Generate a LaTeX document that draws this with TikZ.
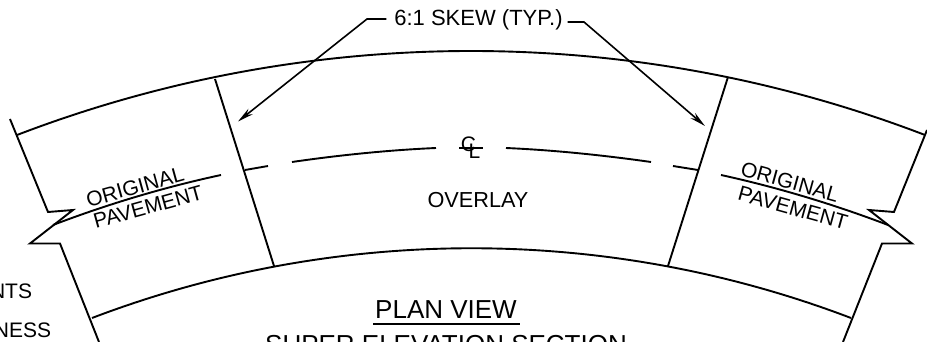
\documentclass[tikz,border=0pt]{standalone}
\usepackage{fontspec}
\setmainfont{Liberation Sans}
\usetikzlibrary{arrows.meta}
\newcommand{\labelsize}{\fontsize{21}{24}\selectfont}
\newcommand{\titlesize}{\fontsize{26}{30}\selectfont}
\begin{document}
\begin{tikzpicture}[x=1pt, y=-1pt, line width=1.9pt, line join=miter,
  main label/.style={font=\labelsize,inner sep=0pt},
  leader/.style={line width=1.6pt,-{Stealth[length=16pt,width=7pt]}}]
\useasboundingbox (0,0) rectangle (927,342);
% edges of the overlay
\coordinate (tl) at (17,135);
\coordinate (tr) at (925,135);
\coordinate (bl) at (92,318);
\coordinate (br) at (851,318);
\coordinate (skewlt) at (215,79);
\coordinate (skewlb) at (274,266);
\coordinate (skewrt) at (728,77);
\coordinate (skewrb) at (668,266);
\draw (tl) .. controls (309,23) and (633,23) .. (tr);
\draw (bl) .. controls (336,225) and (607,225) .. (br);
\draw (skewlt) -- (skewlb);
\draw (skewrt) -- (skewrb);
% break lines
\draw (10,119) -- (48,212) -- (73,210) -- (30,243.5) -- (60,243.5) -- (99,342);
\draw (927,130) -- (894,212) -- (869,210) -- (912,243.5) -- (882,243.5) -- (843,342);
\draw (53,225) .. controls (108,204) and (165,187) .. (221,175);
\draw (888,225) .. controls (833,204) and (776,187) .. (721,175);
% center line
\draw (245,170) -- (268,166);
\draw (292,162) .. controls (340,155) and (390,150) .. (436,148);
\draw (506,148) .. controls (552,150) and (602,155) .. (651,162);
\draw (673,166) -- (698,170);
\begin{scope}[every node/.style={main label}]
\node[font=\fontsize{22}{24}\selectfont] (skew) at (478.5,20) {6:1 SKEW (TYP.)};
\node[rotate=15.5] (origl) at (135,187) {ORIGINAL};
\node[rotate=15.5] (pavel) at (148,207) {PAVEMENT};
\node[rotate=-15.5] (origr) at (790,182) {ORIGINAL};
\node[rotate=-15.5] (paver) at (793,208) {PAVEMENT};
\node[font=\fontsize{21.7}{24}\selectfont] (overlay) at (478,200) {OVERLAY};
\node[anchor=east] (nts) at (33,291) {NTS};
\node[anchor=east] (ness) at (52,330) {NESS};
\node[font=\fontsize{21}{21}\selectfont] (clc) at (468.5,144.5) {C};
\node[font=\fontsize{21}{21}\selectfont] (cll) at (474.5,151) {L};
\node[font=\titlesize,anchor=base] (plan) at (446,318) {PLAN VIEW};
\node[font=\titlesize,anchor=base] (super) at (446,353) {SUPER ELEVATION SECTION};
\end{scope}
\draw (459,148) -- (483,148);
\draw[line width=2.4pt] (373,324) -- (520,324);
% leaders
\coordinate (arrl) at (238,121.5);
\coordinate (arrr) at (705,126);
\draw[leader] (skew.west) ++(-7,-1) -- (367,19) -- (arrl);
\draw[leader] (skew.east) ++(4,2) -- (584,22) -- (arrr);
\end{tikzpicture}
\end{document}
